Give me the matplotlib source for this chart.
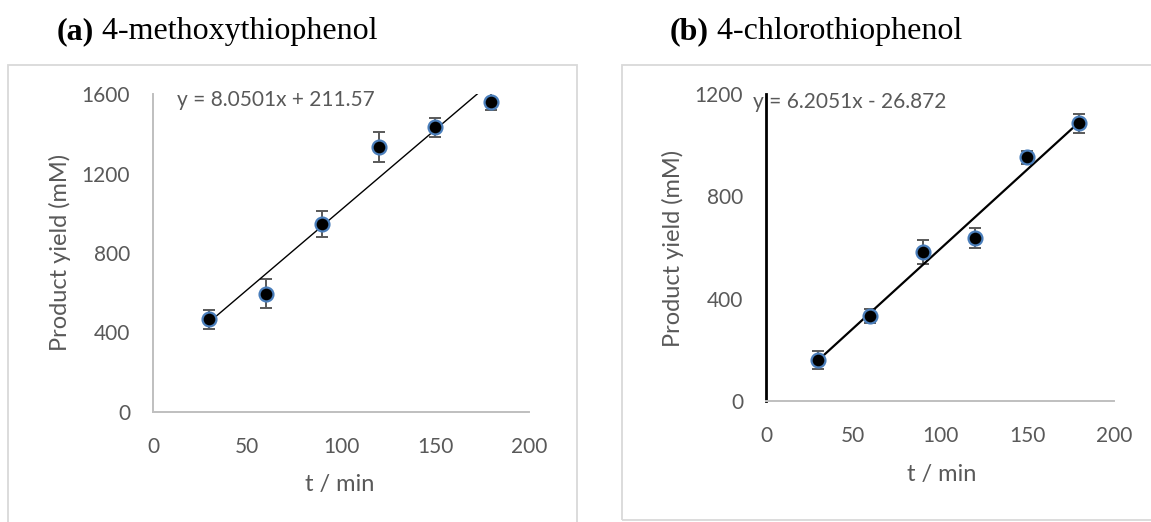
import matplotlib
matplotlib.use("Agg")
import matplotlib.pyplot as plt
from matplotlib.patches import Rectangle
import numpy as np

# ---- data ----
t_min = [30, 60, 90, 120, 150, 180]
yield_a = [467, 596, 947, 1334, 1432, 1561]
err_a = [48, 75, 65, 75, 46, 44]
yield_b = [161, 331, 584, 636, 953, 1085]
err_b = [36, 27, 47, 39, 26, 38]
fit_a = (8.0501, 211.57)
fit_b = (6.2051, -26.872)
eq_a = "y = 8.0501x + 211.57"
eq_b = "y = 6.2051x - 26.872"
title_a = ("(a)", " 4-methoxythiophenol")
title_b = ("(b)", " 4-chlorothiophenol")
xlabel = "t / min"
ylabel = "Product yield (mM)"
xticks = [0, 50, 100, 150, 200]
yticks_a = [0, 400, 800, 1200, 1600]
yticks_b = [0, 400, 800, 1200]

W, H = 1151, 522
fig = plt.figure(figsize=(W / 100, H / 100), dpi=100)
fig.patch.set_facecolor("white")

TXT = "#595959"
SANS = ["Lato", "DejaVu Sans"]
SERIF = ["Liberation Serif", "DejaVu Serif"]

def fx(px):
    return px / W

def fy(py):
    return 1 - py / H

# chart-area frames
fig.patches.append(Rectangle((fx(8), fy(540)), fx(577 - 8), (540 - 65) / H,
                             transform=fig.transFigure, fill=False,
                             edgecolor="#d9d9d9", lw=1.3))
fig.patches.append(Rectangle((fx(622), fy(520)), fx(1170 - 622), (520 - 65) / H,
                             transform=fig.transFigure, fill=False,
                             edgecolor="#d9d9d9", lw=1.3))

def panel(box, ys, errs, fit, eq, yticks, ymax, eq_px, yspine_color, yspine_lw, fit_lw,
          ylab_px, xlab_px):
    l, r, b, t = box
    ax = fig.add_axes([fx(l), fy(b), fx(r - l), (b - t) / H])
    ax.set_xlim(0, 200)
    ax.set_ylim(0, ymax)
    ax.set_xticks(xticks)
    ax.set_yticks(yticks)
    for s in ["top", "right"]:
        ax.spines[s].set_visible(False)
    ax.spines["left"].set_color(yspine_color)
    ax.spines["left"].set_linewidth(yspine_lw)
    ax.spines["bottom"].set_color("#bfbfbf")
    ax.spines["bottom"].set_linewidth(1.4)
    ax.tick_params(axis="both", length=0, labelsize=15, labelcolor=TXT)
    ax.tick_params(axis="y", pad=16.5)
    ax.tick_params(axis="x", pad=18)
    for lab in ax.get_xticklabels() + ax.get_yticklabels():
        lab.set_family(SANS)
    ax.errorbar(t_min, ys, yerr=errs, fmt="none", ecolor="#595959",
                elinewidth=1.4, capsize=4.5, capthick=1.4, zorder=2)
    xf = np.array([t_min[0], t_min[-1]], dtype=float)
    ax.plot(xf, fit[0] * xf + fit[1], color="black", lw=fit_lw, zorder=3)
    ax.plot(t_min, ys, "o", ms=10, mfc="black", mec="#4a7ebb", mew=1.6, zorder=4)
    fig.text(fx(eq_px[0]), fy(eq_px[1]), eq, fontsize=15, color=TXT, family=SANS,
             va="center", ha="left", zorder=0)
    fig.text(fx(ylab_px[0]), fy(ylab_px[1]), ylabel, fontsize=17, color=TXT, family=SANS,
             rotation=90, va="center", ha="center")
    fig.text(fx(xlab_px[0]), fy(xlab_px[1]), xlabel, fontsize=17, color=TXT, family=SANS,
             va="center", ha="center")
    return ax

axa = panel((153, 529, 412, 94), yield_a, err_a, fit_a, eq_a, yticks_a, 1600,
            (177, 100), "#bfbfbf", 1.4, 1.0, (60, 252), (340, 485))
axb = panel((766, 1114, 401, 94), yield_b, err_b, fit_b, eq_b, yticks_b, 1200,
            (753, 102), "black", 2.0, 1.6, (673, 248), (942, 475))

# titles with bold panel letter
fig.canvas.draw()
r = fig.canvas.get_renderer()
for (bold, rest), x0 in [(title_a, 57), (title_b, 670)]:
    t1 = fig.text(fx(x0), fy(39), bold, fontsize=23, fontweight="bold",
                  family=SERIF, va="baseline", ha="left", color="black")
    bb = t1.get_window_extent(renderer=r)
    fig.text(bb.x1 / W, fy(39), rest, fontsize=23, family=SERIF,
             va="baseline", ha="left", color="black")

fig.savefig("out.png", dpi=100)
